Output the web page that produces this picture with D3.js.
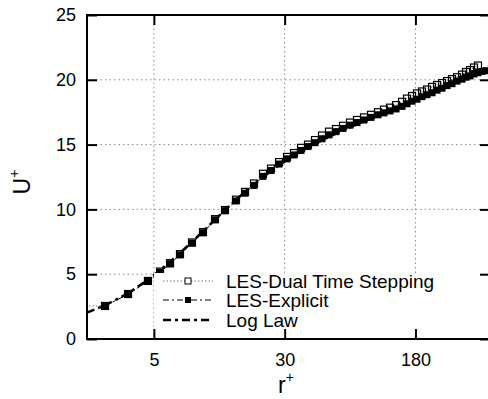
<!DOCTYPE html>
<html>
<head>
<meta charset="utf-8">
<script src="https://cdn.jsdelivr.net/npm/d3@7/dist/d3.min.js"></script>
<style>
html,body{margin:0;padding:0;background:#fff;}
svg{display:block;font-family:"Liberation Sans",Arial,Helvetica,sans-serif;}
</style>
</head>
<body>
<svg id="chart" width="488" height="399"></svg>
<script>
// ---- data ----
const xTicks = [5, 30, 180];
const yTicks = [0, 5, 10, 15, 20, 25];
const seriesNames = ["LES-Dual Time Stepping", "LES-Explicit", "Log Law"];

const dualR = [1, 2.56, 3.51, 4.61, 5.44, 6.24, 7.15, 8.43, 9.80, 11.55, 13.25, 15.40, 17.43, 19.71, 22.30, 24.88, 27.77, 30.98, 34.10, 37.54, 41.31, 45.47, 50.04, 55.08, 60.63, 66.73, 73.45, 80.84, 88.98, 97.93, 107.8, 117.0, 127.1, 138.0, 149.8, 160.4, 171.8, 183.9, 197.0, 211.0, 226.0, 242.0, 259.2, 277.6, 297.2, 318.3, 340.9, 360.0, 380.2, 401.6, 424.1];
const dualU = [2.55, 2.55, 3.47, 4.48, 5.2, 5.85, 6.55, 7.45, 8.25, 9.25, 9.95, 10.75, 11.35, 12.0, 12.75, 13.15, 13.65, 14.05, 14.35, 14.75, 15.0, 15.35, 15.7, 16.0, 16.2, 16.45, 16.7, 16.9, 17.1, 17.3, 17.5, 17.7, 17.85, 18.05, 18.3, 18.55, 18.75, 18.95, 19.1, 19.25, 19.45, 19.6, 19.75, 19.9, 20.05, 20.2, 20.4, 20.6, 20.75, 20.95, 21.1];

const explR = [2.56, 3.51, 4.61, 5.44, 6.24, 7.15, 8.43, 9.80, 11.55, 13.25, 15.40, 17.43, 19.71, 22.30, 24.88, 27.77, 30.98, 34.10, 37.54, 41.31, 45.47, 50.04, 55.08, 60.63, 66.73, 73.45, 80.84, 88.98, 97.93, 107.8, 117.0, 127.1, 138.0, 149.8, 160.4, 171.8, 183.9, 197.0, 211.0, 226.0, 242.0, 259.2, 277.6, 297.2, 318.3, 340.9, 360.0, 380.2, 401.6, 424.1, 448.1, 473.3];
const explU = [2.55, 3.45, 4.45, 5.15, 5.8, 6.5, 7.4, 8.2, 9.2, 9.9, 10.65, 11.25, 11.85, 12.55, 13.0, 13.5, 13.9, 14.2, 14.55, 14.85, 15.15, 15.45, 15.75, 16.0, 16.25, 16.5, 16.7, 16.9, 17.1, 17.3, 17.45, 17.6, 17.75, 17.95, 18.15, 18.35, 18.5, 18.7, 18.85, 19.0, 19.2, 19.35, 19.55, 19.7, 19.9, 20.05, 20.2, 20.3, 20.45, 20.55, 20.65, 20.7];

const lawR = [2, 3, 4, 5, 7, 10, 15, 20, 30, 50, 80, 120, 180, 250, 350, 500];
const lawU = [2.04, 3.05, 4.02, 4.93, 6.53, 8.42, 10.60, 12.01, 13.70, 15.33, 16.54, 17.53, 18.53, 19.34, 20.17, 21.07];

// ---- layout ----
const svg = d3.select("#chart");
const L = 87, R = 490, T = 15, B = 339;
const x = d3.scaleLog().domain([2, 500]).range([L, R]);
const y = d3.scaleLinear().domain([0, 25]).range([B, T]);
const MS = 7;

svg.append("defs").append("clipPath").attr("id", "clip")
  .append("rect").attr("x", L).attr("y", T).attr("width", R - L).attr("height", B - T);

// grid
const grid = svg.append("g").attr("stroke", "#8a8a8a").attr("stroke-width", 1)
  .attr("stroke-dasharray", "1.5,3").attr("fill", "none");
xTicks.forEach(v => grid.append("line").attr("x1", x(v)).attr("x2", x(v)).attr("y1", T).attr("y2", B));
yTicks.filter(v => v > 0 && v < 25).forEach(v => grid.append("line").attr("x1", L).attr("x2", R).attr("y1", y(v)).attr("y2", y(v)));

const plot = svg.append("g").attr("clip-path", "url(#clip)");
const line = d3.line().x(d => x(d[0])).y(d => y(d[1]));

const dual = dualR.map((r, i) => [r, dualU[i]]);
const expl = explR.map((r, i) => [r, explU[i]]);
const law = lawR.map((r, i) => [r, lawU[i]]);

// dual: dotted line + open squares
plot.append("path").datum(dual).attr("d", line).attr("fill", "none")
  .attr("stroke", "#777").attr("stroke-width", 1).attr("stroke-dasharray", "1.5,2");
plot.selectAll(".ms").data(dual).enter().append("rect")
  .attr("x", d => x(d[0]) - MS / 2).attr("y", d => y(d[1]) - MS / 2)
  .attr("width", MS).attr("height", MS).attr("fill", "none").attr("stroke", "#000").attr("stroke-width", 1.2);

// explicit: thin dash-dot + filled squares
plot.append("path").datum(expl).attr("d", line).attr("fill", "none")
  .attr("stroke", "#000").attr("stroke-width", 1).attr("stroke-dasharray", "6,3,2,3");
plot.selectAll(".mf").data(expl).enter().append("rect")
  .attr("x", d => x(d[0]) - MS / 2).attr("y", d => y(d[1]) - MS / 2)
  .attr("width", MS).attr("height", MS).attr("fill", "#000");

// log law: thick dash-dot
plot.append("path").datum(law).attr("d", d3.line().curve(d3.curveMonotoneX).x(d => x(d[0])).y(d => y(d[1])))
  .attr("fill", "none").attr("stroke", "#000").attr("stroke-width", 2.5).attr("stroke-dasharray", "8,4,3,4");

// legend
const lg = svg.append("g");
lg.append("rect").attr("x", 154).attr("y", 273).attr("width", 328).attr("height", 63).attr("fill", "#fff");
const rows = [281, 300, 320];
const sx1 = 163, sx2 = 213, sxm = 188;
lg.append("line").attr("x1", sx1).attr("x2", sx2).attr("y1", rows[0]).attr("y2", rows[0])
  .attr("stroke", "#777").attr("stroke-width", 1).attr("stroke-dasharray", "1.5,2");
lg.append("rect").attr("x", sxm - 3).attr("y", rows[0] - 3).attr("width", 6).attr("height", 6)
  .attr("fill", "#fff").attr("stroke", "#000");
lg.append("line").attr("x1", sx1).attr("x2", sx2).attr("y1", rows[1]).attr("y2", rows[1])
  .attr("stroke", "#000").attr("stroke-width", 1).attr("stroke-dasharray", "6,3,2,3");
lg.append("rect").attr("x", sxm - 3).attr("y", rows[1] - 3).attr("width", 6).attr("height", 6).attr("fill", "#000");
lg.append("line").attr("x1", sx1).attr("x2", sx2).attr("y1", rows[2]).attr("y2", rows[2])
  .attr("stroke", "#000").attr("stroke-width", 2.5).attr("stroke-dasharray", "8,4,3,4");
seriesNames.forEach((n, i) => {
  lg.append("text").attr("x", 226).attr("y", rows[i]).attr("dy", "0.35em")
    .attr("font-size", 19).attr("fill", "#000").text(n);
});

// axes (ticks inward)
const fmt = d3.format("d");
const gB = svg.append("g").attr("transform", `translate(0,${B})`)
  .call(d3.axisBottom(x).tickValues(xTicks).tickFormat(fmt).tickSize(-10).tickPadding(14));
const gT = svg.append("g").attr("transform", `translate(0,${T})`)
  .call(d3.axisTop(x).tickValues(xTicks).tickFormat("").tickSize(-10));
const gL = svg.append("g").attr("transform", `translate(${L},0)`)
  .call(d3.axisLeft(y).tickValues(yTicks).tickFormat(fmt).tickSize(-10).tickPadding(11));
const gR = svg.append("g").attr("transform", `translate(${R},0)`)
  .call(d3.axisRight(y).tickValues(yTicks).tickFormat("").tickSize(-10));
[gB, gT, gL, gR].forEach(g => {
  g.select(".domain").remove();
  g.selectAll(".tick line").attr("stroke", "#000").attr("stroke-width", 2);
  g.selectAll("text").attr("font-size", 18).attr("fill", "#000")
    .attr("font-family", "'Liberation Sans',Arial,Helvetica,sans-serif");
});
gB.selectAll("text").attr("dy", "0.71em");

// frame
svg.append("rect").attr("x", L).attr("y", T).attr("width", R - L).attr("height", B - T)
  .attr("fill", "none").attr("stroke", "#000").attr("stroke-width", 2);

// axis titles
const xt = svg.append("text").attr("x", 286).attr("y", 393).attr("text-anchor", "middle")
  .attr("font-size", 23).attr("fill", "#000");
xt.append("tspan").text("r");
xt.append("tspan").attr("font-size", 14).attr("dy", -11).text("+");

const yt = svg.append("text").attr("transform", "translate(30,182) rotate(-90)")
  .attr("text-anchor", "middle").attr("font-size", 23).attr("fill", "#000");
yt.append("tspan").text("U");
yt.append("tspan").attr("font-size", 14).attr("dy", -11).text("+");
</script>
</body>
</html>
